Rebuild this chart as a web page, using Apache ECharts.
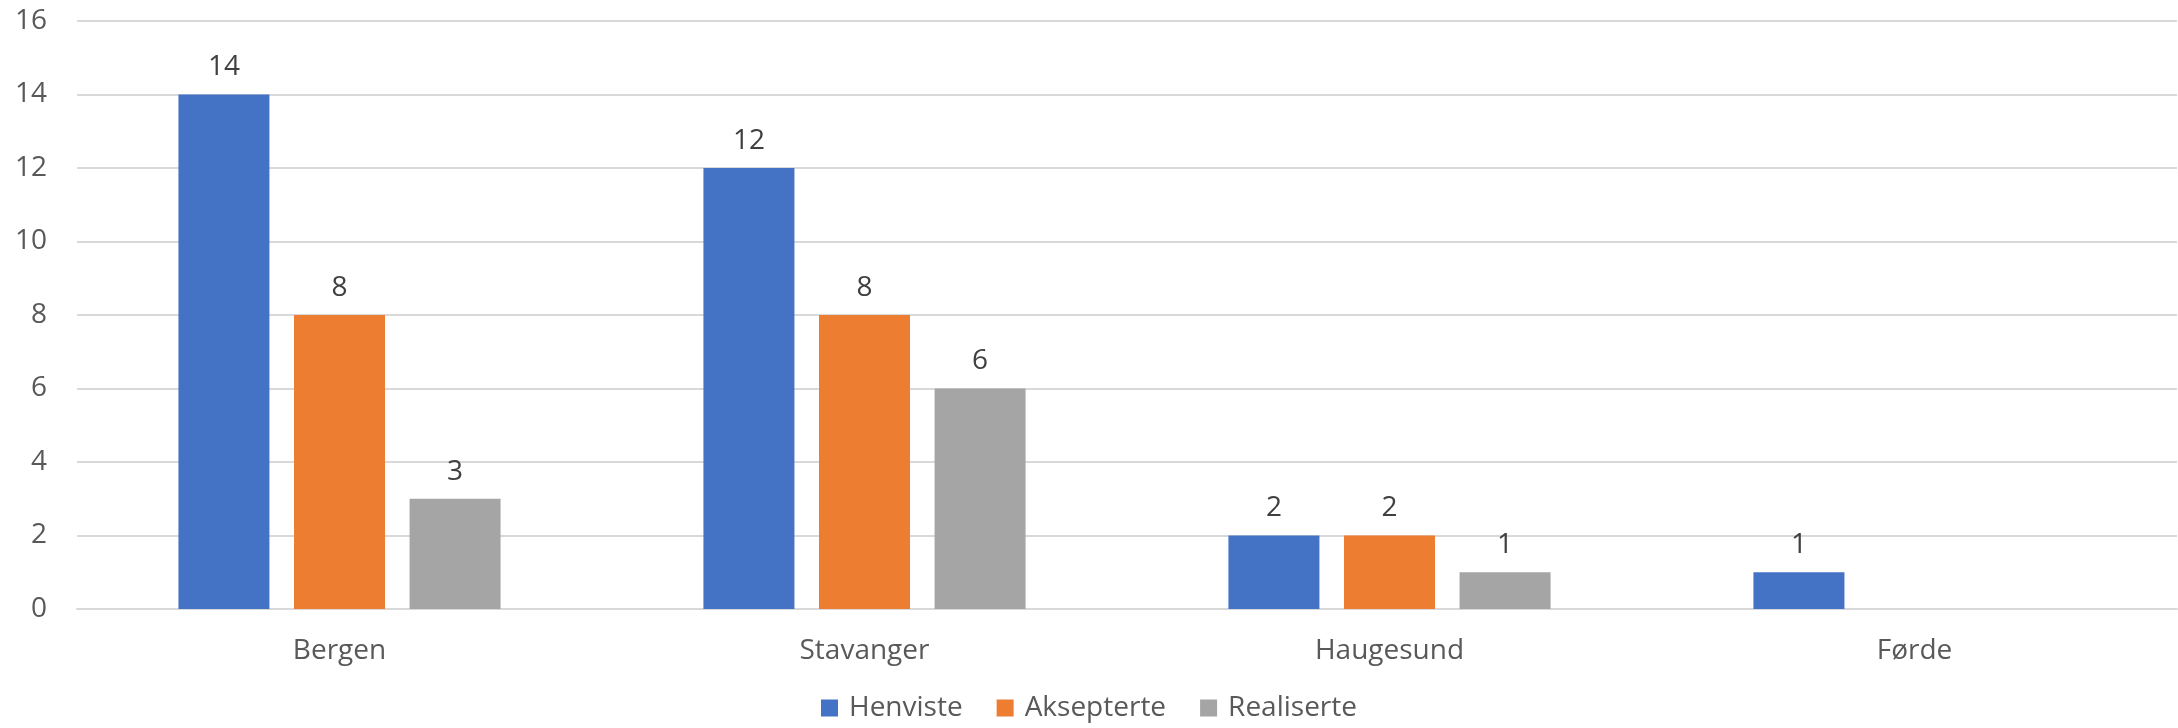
<!DOCTYPE html>
<html><head><meta charset="utf-8">
<script src="https://cdn.jsdelivr.net/npm/echarts@6/dist/echarts.min.js"></script>
<style>html,body{margin:0;padding:0;background:#fff}#c{width:2178px;height:728px}</style>
</head><body><div id="c"></div>
<script>
const categories = ['Bergen', 'Stavanger', 'Haugesund', 'Førde'];
const henviste = [14, 12, 2, 1];
const aksepterte = [8, 8, 2, null];
const realiserte = [3, 6, 1, null];
const seriesNames = ['Henviste', 'Aksepterte', 'Realiserte'];
const colors = ['#4472C4', '#ED7D31', '#A5A5A5'];
const FONT = '"Open Sans", "Noto Sans", sans-serif';

const chart = echarts.init(document.getElementById('c'));
const mk = (name, data, color) => ({
  name, type: 'bar', data, barWidth: 91, barGap: '27%',
  itemStyle: { color },
  label: { show: true, position: 'top', distance: 13, color: '#404040', fontSize: 28, fontFamily: FONT }
});
chart.setOption({
  animation: false,
  color: colors,
  grid: { left: 77, right: 1, top: 21, bottom: 119, containLabel: false },
  legend: {
    bottom: 1, itemWidth: 17, itemHeight: 17, itemGap: 34, icon: 'rect',
    textStyle: { fontSize: 28, color: '#595959', fontFamily: FONT, padding: [0, 0, 0, 6] },
    data: seriesNames
  },
  xAxis: {
    type: 'category', data: categories,
    axisLine: { lineStyle: { color: '#D9D9D9', width: 2 } },
    axisTick: { show: false },
    axisLabel: { fontSize: 28, color: '#595959', fontFamily: FONT, margin: 28 }
  },
  yAxis: {
    type: 'value', min: 0, max: 16, interval: 2,
    axisLine: { show: false }, axisTick: { show: false },
    splitLine: { lineStyle: { color: '#D9D9D9', width: 2 } },
    axisLabel: { fontSize: 28, color: '#595959', fontFamily: FONT, margin: 30 }
  },
  series: [
    mk(seriesNames[0], henviste, colors[0]),
    mk(seriesNames[1], aksepterte, colors[1]),
    mk(seriesNames[2], realiserte, colors[2])
  ]
});
</script></body></html>
